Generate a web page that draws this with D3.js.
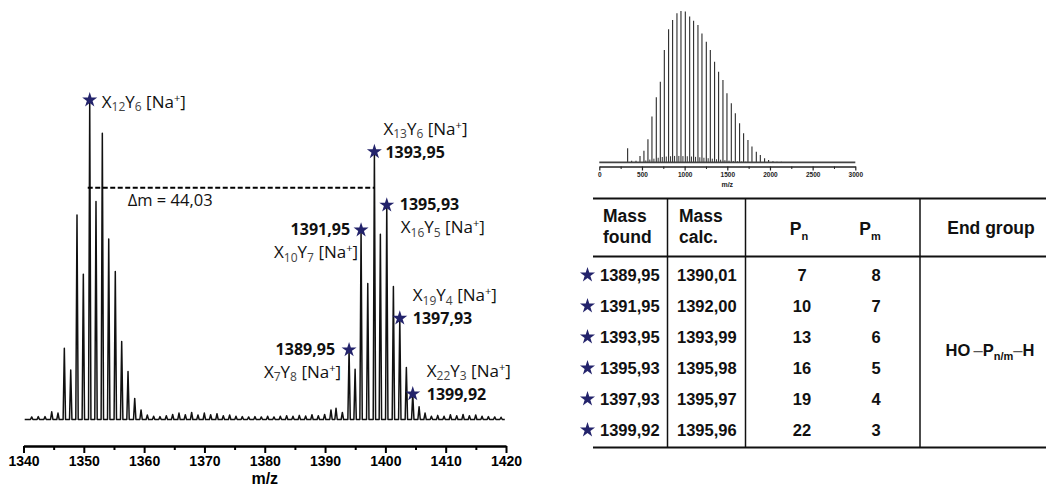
<!DOCTYPE html>
<html>
<head>
<meta charset="utf-8">
<script src="https://cdn.jsdelivr.net/npm/d3@7"></script>
<style>
html, body { margin: 0; padding: 0; background: #fff; }
svg { display: block; }
</style>
</head>
<body>
<div id="chart"></div>
<script>
// ---- main spectrum (m/z read against the drawn axis, intensity in %) ----
const leftMz  = [1341.36, 1342.45, 1343.57, 1344.68, 1345.72, 1346.77, 1347.83, 1348.87, 1349.92, 1350.98,
                 1352.02, 1353.07, 1354.13, 1355.22, 1356.28, 1357.33, 1358.44, 1359.49, 1360.53];
const leftInt = [0.8, 0.9, 0.9, 2.4, 2.0, 22.3, 15.5, 64, 45.5, 100,
                 68.2, 89.6, 56.5, 46.3, 24.4, 15, 6.6, 3, 1.4];
const midMz   = [1361.58, 1362.63, 1363.68, 1364.73, 1365.78, 1366.83, 1367.88, 1368.93, 1369.98, 1371.03,
                 1372.08, 1373.13, 1374.18, 1375.23, 1376.28, 1377.33, 1378.38, 1379.43, 1380.48, 1381.53,
                 1382.58, 1383.63, 1384.68, 1385.73, 1386.78, 1387.83, 1388.88, 1389.93, 1390.98];
const midInt  = [1.0, 0.9, 1.2, 1.6, 2.0, 1.5, 2.2, 1.4, 2.0, 1.5,
                 1.8, 1.2, 1.4, 1.0, 0.9, 0.8, 0.9, 0.8, 1.0, 0.8,
                 1.0, 1.2, 1.0, 1.3, 1.1, 1.5, 1.2, 1.6, 3.0];
const rightMz = [1391.82, 1392.87, 1393.98, 1394.98, 1395.97, 1397.08, 1398.18, 1399.17, 1400.23, 1401.33,
                 1402.39, 1403.48, 1404.54, 1405.59, 1406.58];
const rightInt = [3.5, 2.2, 21.8, 15.7, 59.3, 42.6, 83.8, 58, 67.1, 41.6,
                  31.7, 16.3, 8, 4, 2];
const tailMz  = [1407.63, 1408.68, 1409.73, 1410.78, 1411.83, 1412.88, 1413.93, 1414.98, 1416.03, 1417.08, 1418.13, 1419.18];
const tailInt = [1.0, 1.3, 1.0, 1.5, 1.2, 1.6, 1.2, 1.4, 1.0, 0.9, 0.8, 0.7];

const xTicks = [1340, 1350, 1360, 1370, 1380, 1390, 1400, 1410, 1420];
const xMinorTicks = [1345, 1355, 1365, 1375, 1385, 1395, 1405, 1415];

// labelled peaks
const refPeakMz = 1350.98;           // X12Y6 [Na+]
const refN = 12, refM = 6;
const deltaLevel = 72.5;              // height of the dashed Δm line (%)
const deltaText = 'Δm = 44,03';

// ---- table ----
const massFound = ['1389,95', '1391,95', '1393,95', '1395,93', '1397,93', '1399,92'];
const massCalc  = ['1390,01', '1392,00', '1393,99', '1395,98', '1395,97', '1395,96'];
const pN = [7, 10, 13, 16, 19, 22];
const pM = [8, 7, 6, 5, 4, 3];
const foundPeakMz = [1393.98, 1395.97, 1398.18, 1400.23, 1402.39, 1404.54];

// ---- inset overview spectrum ----
const insetMz  = [332, 379, 430, 477, 523, 570, 617, 668, 715, 762, 812, 859, 910, 957, 1008, 1059, 1105, 1156,
                  1203, 1254, 1301, 1351, 1398, 1449, 1496, 1547, 1594, 1644, 1691, 1742, 1789, 1840, 1887,
                  1937, 1984, 2035, 2082, 2133];
const insetInt = [9.3, 1, 1, 4.2, 7.7, 15.2, 30.2, 43, 53.3, 74.2, 87.9, 94, 98.5, 100, 99.6, 96.3, 93.6, 90.7,
                  85.2, 79.7, 74.2, 66.5, 59.9, 54.4, 45.6, 39, 32.4, 25.8, 19.2, 14.8, 10.4, 7,
                  4.8, 2.6, 1.5, 0.7, 0.4, 0.3];
const insetMinorMz  = [545, 592, 640, 690, 738, 785, 835, 882, 932, 980, 1031, 1080, 1128, 1178, 1226, 1276,
                       1324, 1374, 1422, 1472, 1520, 1570, 1618, 1668, 1716];
const insetMinorInt = [1.2, 1.8, 2.4, 3, 3.5, 3.8, 4, 4.2, 4.2, 4.1, 4, 3.8, 3.6, 3.3, 3, 2.7,
                       2.4, 2, 1.7, 1.4, 1.1, 0.9, 0.7, 0.5, 0.4];
const insetTicks = [0, 500, 1000, 1500, 2000, 2500, 3000];
const insetMinorTicks = [250, 750, 1250, 1750, 2250, 2750];

// ---------------------------------------------------------------
const width = 1048, height = 490;
const starColor = '#23236b';
const labelFont = "'Open Sans', sans-serif";
const tableFont = "'Liberation Sans', Arial, sans-serif";

const svg = d3.select('#chart').append('svg')
    .attr('width', width)
    .attr('height', height);

const x = d3.scaleLinear().domain([1340, 1420]).range([23.5, 506]);
const y = d3.scaleLinear().domain([0, 100]).range([419.5, 100]);

// spectrum as a profile line
const peaks = [];
[[leftMz, leftInt], [midMz, midInt], [rightMz, rightInt], [tailMz, tailInt]].forEach(([ms, vs]) => {
    ms.forEach((m, i) => peaks.push({ mz: m, v: vs[i] }));
});
const intensityAt = new Map(peaks.map(p => [p.mz, p.v]));

const hw = 0.2;
const profile = [[1340.2, 0]];
peaks.forEach(p => {
    profile.push([p.mz - hw, 0], [p.mz, p.v], [p.mz + hw, 0]);
});
profile.push([1419.8, 0]);

const line = d3.line().x(d => x(d[0])).y(d => y(d[1]));

const main = svg.append('g').attr('class', 'main');

main.append('path')
    .datum(profile)
    .attr('d', line)
    .attr('fill', 'none')
    .attr('stroke', '#111')
    .attr('stroke-width', 1.5)
    .attr('stroke-linejoin', 'round');

// x axis
const axisY = 446;
const gAxis = main.append('g')
    .attr('transform', `translate(0,${axisY})`)
    .call(d3.axisBottom(x).tickValues(xTicks).tickSize(7).tickSizeOuter(0).tickFormat(d3.format('d')));
gAxis.select('.domain').attr('stroke', '#000').attr('stroke-width', 2.5);
gAxis.selectAll('.tick line').attr('stroke', '#000').attr('stroke-width', 2);
gAxis.selectAll('.tick text')
    .attr('font-family', tableFont)
    .attr('font-weight', 'bold')
    .attr('font-size', 14)
    .attr('fill', '#000');

const gMinor = main.append('g')
    .attr('transform', `translate(0,${axisY})`)
    .call(d3.axisBottom(x).tickValues(xMinorTicks).tickSize(4).tickSizeOuter(0).tickFormat(''));
gMinor.select('.domain').remove();
gMinor.selectAll('.tick line').attr('stroke', '#000').attr('stroke-width', 2);

main.append('text')
    .attr('x', (x.range()[0] + x.range()[1]) / 2)
    .attr('y', 484)
    .attr('text-anchor', 'middle')
    .attr('font-family', tableFont)
    .attr('font-weight', 'bold')
    .attr('font-size', 16)
    .text('m/z');

// Δm dashed line
main.append('line')
    .attr('x1', x(refPeakMz) - 2)
    .attr('x2', x(foundPeakMz[2]))
    .attr('y1', y(deltaLevel))
    .attr('y2', y(deltaLevel))
    .attr('stroke', '#000')
    .attr('stroke-width', 2)
    .attr('stroke-dasharray', '5,2.5');

main.append('text')
    .attr('x', x(refPeakMz) + 38)
    .attr('y', y(deltaLevel) + 18)
    .attr('font-family', labelFont)
    .attr('font-size', 16.5)
    .attr('fill', '#111')
    .text(deltaText);

const star = d3.symbol().type(d3.symbolStar).size(70);

function formula(g, n, m, px, py, anchor) {
    const t = g.append('text')
        .attr('x', px)
        .attr('y', py)
        .attr('text-anchor', anchor)
        .attr('font-family', labelFont)
        .attr('font-size', 17)
        .attr('fill', '#111');
    t.append('tspan').text('X');
    t.append('tspan').attr('font-size', 12).attr('dy', 3.5).attr('fill', '#444').text(n);
    t.append('tspan').attr('dy', -3.5).text('Y');
    t.append('tspan').attr('font-size', 12).attr('dy', 3.5).attr('fill', '#444').text(m);
    t.append('tspan').attr('dy', -3.5).text(' [Na');
    t.append('tspan').attr('font-size', 11).attr('dy', -6).text('+');
    t.append('tspan').attr('dy', 6).text(']');
}

// label placement for each table row's peak: [dx, dy, anchor]
const placement = [
    { num: [-14, 5, 'end'], fml: [-8, 28, 'end'] },
    { num: [-11, 5, 'end'], fml: [-3, 28, 'end'] },
    { num: [11, 6, 'start'], fml: [9, -17, 'start'] },
    { num: [13, 5, 'start'], fml: [14, 28, 'start'] },
    { num: [13, 6, 'start'], fml: [13, -17, 'start'] },
    { num: [14, 6, 'start'], fml: [14, -17, 'start'] }
];

// reference peak
{
    const sx = x(refPeakMz), sy = y(intensityAt.get(refPeakMz));
    main.append('path').attr('d', star).attr('transform', `translate(${sx},${sy})`).attr('fill', starColor);
    formula(main, refN, refM, sx + 12, sy + 7.5, 'start');
}

foundPeakMz.forEach((mz, i) => {
    const sx = x(mz), sy = y(intensityAt.get(mz));
    const p = placement[i];
    main.append('path').attr('d', star).attr('transform', `translate(${sx},${sy})`).attr('fill', starColor);
    main.append('text')
        .attr('x', sx + p.num[0])
        .attr('y', sy + p.num[1])
        .attr('text-anchor', p.num[2])
        .attr('font-family', labelFont)
        .attr('font-weight', 'bold')
        .attr('font-size', 16)
        .attr('fill', '#111')
        .text(massFound[i]);
    formula(main, pN[i], pM[i], sx + p.fml[0], sy + p.fml[1], p.fml[2]);
});

// ---- inset ----
const xi = d3.scaleLinear().domain([0, 3000]).range([599.3, 855.3]);
const yi = d3.scaleLinear().domain([0, 100]).range([162.3, 11]);
const inset = svg.append('g').attr('class', 'inset');

inset.selectAll('line.minor')
    .data(insetMinorMz.map((m, i) => ({ mz: m, v: insetMinorInt[i] })))
    .join('line')
    .attr('class', 'minor')
    .attr('x1', d => xi(d.mz)).attr('x2', d => xi(d.mz))
    .attr('y1', yi(0)).attr('y2', d => yi(d.v))
    .attr('stroke', '#333').attr('stroke-width', 1);

inset.selectAll('line.peak')
    .data(insetMz.map((m, i) => ({ mz: m, v: insetInt[i] })))
    .join('line')
    .attr('class', 'peak')
    .attr('x1', d => xi(d.mz)).attr('x2', d => xi(d.mz))
    .attr('y1', yi(0)).attr('y2', d => yi(d.v))
    .attr('stroke', '#2a2a2a').attr('stroke-width', 1.1);

inset.append('line')
    .attr('x1', xi(0)).attr('x2', xi(3000))
    .attr('y1', yi(0)).attr('y2', yi(0))
    .attr('stroke', '#444').attr('stroke-width', 1.8);

const insetAxisY = 166.5;
const gi = inset.append('g')
    .attr('transform', `translate(0,${insetAxisY})`)
    .call(d3.axisBottom(xi).tickValues(insetTicks).tickSize(4).tickSizeOuter(0).tickPadding(2).tickFormat(d3.format('d')));
gi.select('.domain').attr('stroke', '#222').attr('stroke-width', 1.4);
gi.selectAll('.tick line').attr('stroke', '#222').attr('stroke-width', 1.2);
gi.selectAll('.tick text')
    .attr('font-family', tableFont)
    .attr('font-weight', 'bold')
    .attr('font-size', 6.5)
    .attr('fill', '#222');
const giMinor = inset.append('g')
    .attr('transform', `translate(0,${insetAxisY})`)
    .call(d3.axisBottom(xi).tickValues(insetMinorTicks).tickSize(2.5).tickSizeOuter(0).tickFormat(''));
giMinor.select('.domain').remove();
giMinor.selectAll('.tick line').attr('stroke', '#222').attr('stroke-width', 1);

inset.append('text')
    .attr('x', (xi.range()[0] + xi.range()[1]) / 2)
    .attr('y', 186.5)
    .attr('text-anchor', 'middle')
    .attr('font-family', tableFont)
    .attr('font-weight', 'bold')
    .attr('font-size', 7)
    .attr('fill', '#222')
    .text('m/z');

// ---- table ----
const table = svg.append('g').attr('class', 'table')
    .attr('font-family', tableFont)
    .attr('font-weight', 'bold')
    .attr('fill', '#111');

const tTop = 198.5, tHead = 256.5, tBottom = 447.5, tLeft = 593, tRight = 1046;
const colLines = [667.5, 745.5, 920];

[[tTop, 2], [tHead, 2], [tBottom, 2]].forEach(([ly, w]) => {
    table.append('line')
        .attr('x1', tLeft).attr('x2', tRight)
        .attr('y1', ly).attr('y2', ly)
        .attr('stroke', '#111').attr('stroke-width', w);
});
colLines.forEach(cx => {
    table.append('line')
        .attr('x1', cx).attr('x2', cx)
        .attr('y1', tTop).attr('y2', tBottom)
        .attr('stroke', '#111').attr('stroke-width', 1.5);
});

const headSize = 17.5;
[['Mass', 603, 221.7], ['found', 603, 243.3], ['Mass', 679, 221.7], ['calc.', 679, 243.3]].forEach(([t, hx, hy]) => {
    table.append('text').attr('x', hx).attr('y', hy).attr('font-size', headSize).text(t);
});
function subHead(base, sub, cx) {
    const t = table.append('text').attr('x', cx).attr('y', 235).attr('text-anchor', 'middle').attr('font-size', headSize);
    t.append('tspan').text(base);
    t.append('tspan').attr('font-size', 11).attr('dy', 5).text(sub);
}
subHead('P', 'n', 799);
subHead('P', 'm', 870);
table.append('text').attr('x', 991).attr('y', 233.5).attr('text-anchor', 'middle').attr('font-size', headSize).text('End group');

const rowY = d3.scalePoint().domain(d3.range(massFound.length)).range([275, 430]);
const cellSize = 16.5;

massFound.forEach((mf, i) => {
    const cy = rowY(i), by = cy + 6;
    table.append('path').attr('d', star).attr('transform', `translate(587.5,${cy})`).attr('fill', starColor);
    table.append('text').attr('x', 600).attr('y', by).attr('font-size', cellSize).text(mf);
    table.append('text').attr('x', 677).attr('y', by).attr('font-size', cellSize).text(massCalc[i]);
    table.append('text').attr('x', 802).attr('y', by).attr('text-anchor', 'middle').attr('font-size', cellSize).text(pN[i]);
    table.append('text').attr('x', 876).attr('y', by).attr('text-anchor', 'middle').attr('font-size', cellSize).text(pM[i]);
});

{
    const t = table.append('text')
        .attr('x', 990)
        .attr('y', (rowY(0) + rowY(massFound.length - 1)) / 2 + 3)
        .attr('text-anchor', 'middle')
        .attr('font-size', cellSize);
    t.append('tspan').text('HO\u2009');
    t.append('tspan').attr('font-weight', 'normal').attr('fill', '#555').text('\u2013');
    t.append('tspan').text('P');
    t.append('tspan').attr('font-size', 11).attr('dy', 4).text('n/m');
    t.append('tspan').attr('dy', -4).attr('font-weight', 'normal').attr('fill', '#555').text('\u2013');
    t.append('tspan').text('H');
}
</script>
</body>
</html>
